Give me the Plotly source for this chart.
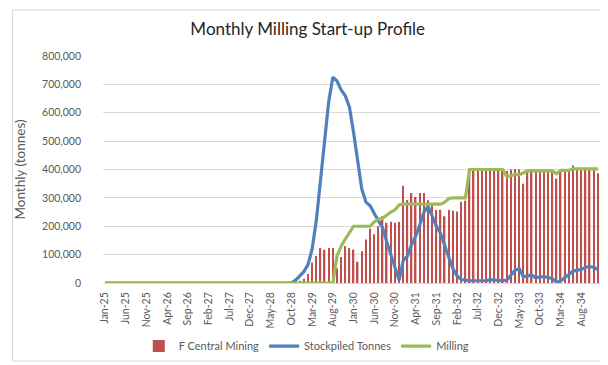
import plotly.graph_objects as go

month_names = ["Jan", "Feb", "Mar", "Apr", "May", "Jun", "Jul", "Aug", "Sep", "Oct", "Nov", "Dec"]
years = ["25", "26", "27", "28", "29", "30", "31", "32", "33", "34"]
months = [f"{m}-{y}" for y in years for m in month_names]

tick_labels = ["Jan-25", "Jun-25", "Nov-25", "Apr-26", "Sep-26", "Feb-27", "Jul-27", "Dec-27",
               "May-28", "Oct-28", "Mar-29", "Aug-29", "Jan-30", "Jun-30", "Nov-30", "Apr-31",
               "Sep-31", "Feb-32", "Jul-32", "Dec-32", "May-33", "Oct-33", "Mar-34", "Aug-34"]

f_central_mining = [
    0, 0, 0, 0, 0, 0, 0, 0, 0, 0, 0, 0,
    0, 0, 0, 0, 0, 0, 0, 0, 0, 0, 0, 0,
    0, 0, 0, 0, 0, 0, 0, 0, 0, 0, 0, 0,
    0, 0, 0, 0, 0, 0, 0, 0, 0, 0, 0, 8000,
    15000, 32000, 72000, 95000, 123000, 117000, 123000, 123000, 52000, 92000, 130000, 123000,
    118000, 75000, 112000, 153000, 191000, 172000, 200000, 235000, 212000, 216000, 212000, 215000,
    343000, 292000, 317000, 303000, 317000, 317000, 292000, 275000, 257000, 258000, 235000, 257000,
    255000, 252000, 286000, 290000, 400000, 400000, 400000, 400000, 400000, 400000, 400000, 400000,
    395000, 395000, 400000, 402000, 400000, 350000, 395000, 400000, 392000, 395000, 395000, 395000,
    395000, 368000, 395000, 400000, 400000, 414000, 400000, 405000, 403000, 400000, 400000, 387000,
]

stockpiled_tonnes = [
    0, 0, 0, 0, 0, 0, 0, 0, 0, 0, 0, 0,
    0, 0, 0, 0, 0, 0, 0, 0, 0, 0, 0, 0,
    0, 0, 0, 0, 0, 0, 0, 0, 0, 0, 0, 0,
    0, 0, 0, 0, 0, 0, 0, 0, 0, 0, 10000, 25000,
    40000, 65000, 120000, 220000, 350000, 500000, 640000, 725000, 712000, 680000, 660000, 620000,
    530000, 420000, 330000, 285000, 272000, 245000, 220000, 195000, 145000, 100000, 60000, 10000,
    80000, 95000, 135000, 165000, 205000, 250000, 270000, 235000, 200000, 175000, 130000, 90000,
    50000, 25000, 12000, 9000, 8000, 8000, 8000, 8000, 8000, 12000, 10000, 8000,
    8000, 10000, 28000, 45000, 50000, 22000, 25000, 28000, 18000, 22000, 22000, 20000,
    15000, 3000, 8000, 18000, 30000, 42000, 44000, 48000, 55000, 58000, 55000, 47000,
]

milling = [
    0, 0, 0, 0, 0, 0, 0, 0, 0, 0, 0, 0,
    0, 0, 0, 0, 0, 0, 0, 0, 0, 0, 0, 0,
    0, 0, 0, 0, 0, 0, 0, 0, 0, 0, 0, 0,
    0, 0, 0, 0, 0, 0, 0, 0, 0, 0, 0, 0,
    0, 0, 0, 0, 0, 0, 0, 0, 95000, 130000, 155000, 180000,
    200000, 200000, 200000, 200000, 200000, 215000, 225000, 228000, 240000, 250000, 258000, 275000,
    278000, 278000, 278000, 278000, 278000, 278000, 278000, 278000, 278000, 278000, 285000, 298000,
    300000, 300000, 300000, 300000, 400000, 400000, 400000, 400000, 400000, 400000, 400000, 400000,
    400000, 375000, 380000, 382000, 382000, 390000, 395000, 395000, 395000, 395000, 395000, 395000,
    395000, 385000, 397000, 397000, 397000, 402000, 402000, 402000, 402000, 402000, 402000, 402000,
]

FONT = "Lato"
TXT = "#595959"

fig = go.Figure()
fig.add_trace(go.Bar(
    x=months, y=f_central_mining, name="F Central Mining",
    marker=dict(color="#C0504D", line=dict(width=0)), width=0.35,
))
fig.add_trace(go.Scatter(
    x=months, y=stockpiled_tonnes, name="Stockpiled Tonnes", mode="lines",
    line=dict(color="#4F81BD", width=3.2),
))
fig.add_trace(go.Scatter(
    x=months, y=milling, name="Milling", mode="lines",
    line=dict(color="#9BBB59", width=3.2),
))

# pixel helpers for the frame (plot area 92..592 x, 48..282 y)
def px_x(p):
    return (p - 92) / 500.0

def px_y(p):
    return (282 - p) / 234.0

fig.update_layout(
    width=608, height=365, autosize=False,
    margin=dict(l=92, r=16, t=48, b=83),
    paper_bgcolor="white", plot_bgcolor="white",
    font=dict(family=FONT, color=TXT, size=11),
    title=dict(text="Monthly Milling Start-up Profile", x=0.493, xanchor="center",
               y=1 - 21 / 365, yanchor="middle", yref="container",
               font=dict(family=FONT, size=17, color="#262626")),
    showlegend=True,
    legend=dict(orientation="h", x=0.41, xanchor="center", y=px_y(347), yanchor="middle",
                font=dict(family=FONT, size=11, color=TXT), bgcolor="rgba(0,0,0,0)",
                traceorder="normal", itemwidth=30),
    bargap=0.5,
    shapes=[dict(type="rect", xref="paper", yref="paper",
                 x0=px_x(1), x1=px_x(600), y0=px_y(362.5), y1=px_y(0.5),
                 line=dict(color="#D9D9D9", width=1), fillcolor="rgba(0,0,0,0)", layer="below")],
)

fig.update_xaxes(
    type="category", categoryorder="array", categoryarray=months,
    tickmode="array", tickvals=tick_labels, ticktext=tick_labels,
    tickangle=-90, tickfont=dict(family=FONT, size=10.5, color=TXT),
    showgrid=False, showline=True, linecolor="#D9D9D9", linewidth=1,
    ticks="", ticklabelstandoff=4, range=[-0.5, 119.5], zeroline=False,
)
fig.update_yaxes(
    range=[0, 800000], tickmode="array",
    tickvals=[0, 100000, 200000, 300000, 400000, 500000, 600000, 700000, 800000],
    ticktext=["0", "100,000", "200,000", "300,000", "400,000", "500,000", "600,000", "700,000", "800,000"],
    tickfont=dict(family=FONT, size=10.5, color=TXT),
    showgrid=True, gridcolor="#D9D9D9", gridwidth=1, zeroline=False, showline=False,
    ticks="", ticklabelstandoff=21,
    title=dict(text="Monthly (tonnes)", font=dict(family=FONT, size=13.5, color=TXT), standoff=13),
)

fig.write_html("out.html")
